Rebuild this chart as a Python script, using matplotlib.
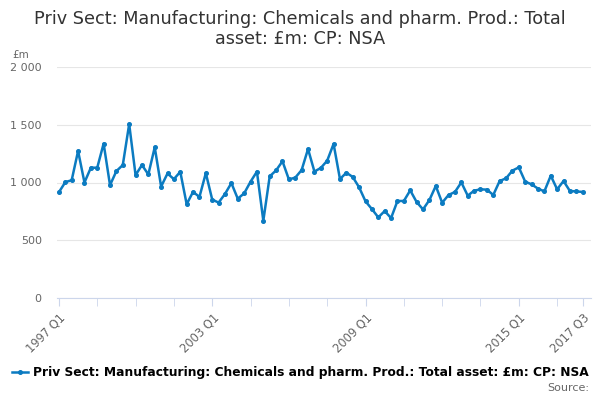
import matplotlib.pyplot as plt
from matplotlib.lines import Line2D

# quarterly values, 1997 Q1 .. 2017 Q3 (£m)
values = [
    916, 1003, 1020, 1273, 1000, 1128, 1128, 1337, 977, 1099, 1151, 1506,
    1064, 1151, 1070, 1305, 965, 1078, 1029, 1093, 812, 919, 875, 1081,
    852, 826, 901, 995, 860, 906, 1007, 1094, 669, 1053, 1105, 1184,
    1027, 1042, 1108, 1290, 1095, 1126, 1189, 1334, 1030, 1085, 1048, 958,
    837, 770, 698, 753, 692, 840, 840, 932, 831, 767, 848, 970,
    825, 892, 918, 1001, 886, 929, 941, 938, 892, 1013, 1036, 1103,
    1131, 1007, 984, 947, 923, 1059, 941, 1013, 926, 923, 918,
]
tick_pos = [0, 24, 48, 72, 82]
tick_labels = ["1997 Q1", "2003 Q1", "2009 Q1", "2015 Q1", "2017 Q3"]
minor_pos = list(range(0, 83, 6)) + [82]
y_ticks = [0, 500, 1000, 1500, 2000]
y_labels = ["0", "500", "1 000", "1 500", "2 000"]

title = "Priv Sect: Manufacturing: Chemicals and pharm. Prod.: Total\nasset: £m: CP: NSA"
series_name = "Priv Sect: Manufacturing: Chemicals and pharm. Prod.: Total asset: £m: CP: NSA"

blue = "#0b7bc1"
grey = "#666666"

fig = plt.figure(figsize=(6, 4), dpi=100)
ax = fig.add_axes([0.095, 0.255, 0.89, 0.5775])

ax.plot(range(len(values)), values, color=blue, lw=1.8, marker="o", ms=2.6)

ax.set_ylim(0, 2000)
ax.set_xlim(-0.3, 83.3)
ax.set_yticks(y_ticks)
ax.set_yticklabels(y_labels, color=grey, fontsize=8)
ax.grid(axis="y", color="#e6e6e6", lw=0.8)
ax.set_axisbelow(True)

ax.set_xticks(minor_pos, minor=True)
ax.set_xticks(tick_pos)
ax.set_xticklabels(tick_labels, rotation=45, ha="right", rotation_mode="anchor",
                   color=grey, fontsize=8.3)
ax.tick_params(axis="x", which="both", length=6, color="#ccd6eb")
ax.tick_params(axis="y", length=0, pad=11)

for s in ["top", "right", "left"]:
    ax.spines[s].set_visible(False)
ax.spines["bottom"].set_color("#ccd6eb")

fig.text(0.5, 0.975, title, ha="center", va="top", fontsize=12.7, color="#333333",
         linespacing=1.15)
fig.text(0.02, 0.855, "£m", fontsize=7.5, color=grey)

handle = Line2D([], [], color=blue, lw=1.8, marker="o", ms=2.6)
fig.legend([handle], [series_name], loc="center", bbox_to_anchor=(0.5, 0.068),
           frameon=False, handlelength=1.3, handletextpad=0.4,
           prop={"weight": "bold", "size": 8.8})
fig.text(0.982, 0.022, "Source:", ha="right", fontsize=8, color=grey)

fig.savefig("out.png", dpi=100)
